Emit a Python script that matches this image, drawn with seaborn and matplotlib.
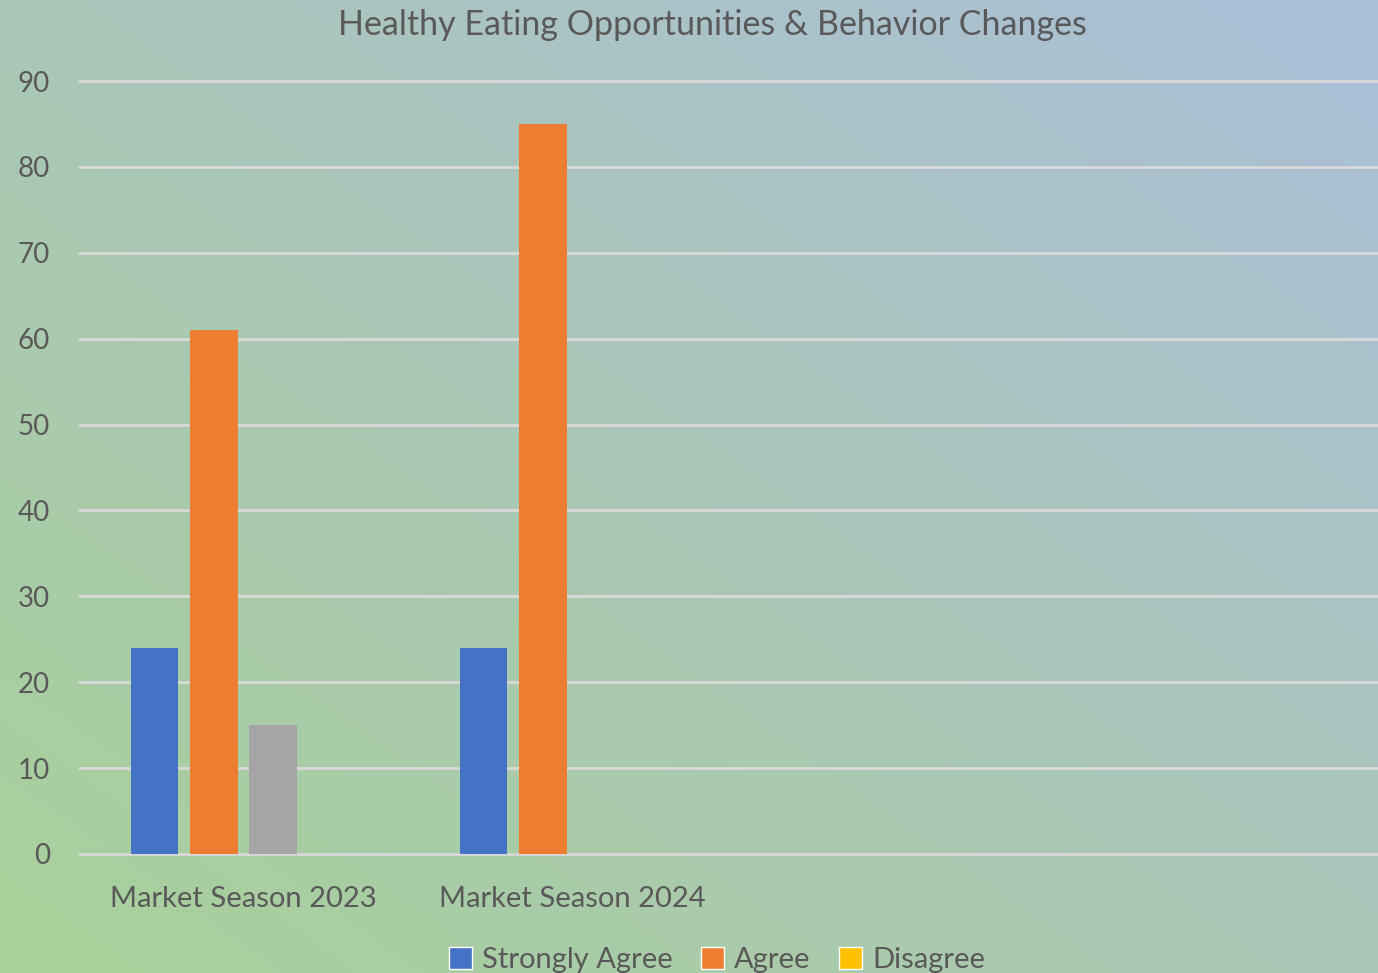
import numpy as np
import pandas as pd
import matplotlib.pyplot as plt
import matplotlib.colors as mcolors
from matplotlib.patches import Patch
import seaborn as sns

# --- data ---
seasons = ["Market Season 2023", "Market Season 2024"]
series = ["Strongly Agree", "Agree", "Neutral", "Disagree"]
strongly_agree = [24, 24]
agree = [61, 85]
neutral = [15, 0]
disagree = [0, 0]
legend_series = ["Strongly Agree", "Agree", "Disagree"]

colors = {"Strongly Agree": "#4472C4", "Agree": "#ED7D31",
          "Neutral": "#A5A5A5", "Disagree": "#FFC000"}
TXT = "#595959"

df = pd.DataFrame({
    "Season": seasons * 4,
    "Response": np.repeat(series, len(seasons)),
    "Value": strongly_agree + agree + neutral + disagree,
})

sns.set_theme(style="white")
plt.rcParams["font.family"] = ["Lato", "DejaVu Sans"]

fig = plt.figure(figsize=(13.78, 9.73), dpi=100)

# gradient background (green bottom-left -> blue top-right)
bg = fig.add_axes([0, 0, 1, 1], zorder=-10)
H, W = 200, 280
yy, xx = np.mgrid[0:H, 0:W]
t = (xx / (W - 1) + (1 - yy / (H - 1))) / 2
cmap = mcolors.LinearSegmentedColormap.from_list(
    "bg", ["#A8D199", "#AAC7B8", "#AABFD9"])
bg.imshow(t, cmap=cmap, aspect="auto", extent=[0, 1, 0, 1], origin="upper")
bg.axis("off")

ax = fig.add_axes([79 / 1378, 119 / 973, 1299 / 1378, 773 / 973])
ax.patch.set_alpha(0)

sns.barplot(data=df, x="Season", y="Value", hue="Response", hue_order=series,
            palette=colors, width=0.72, gap=0.2, ax=ax, legend=False,
            saturation=1, linewidth=0, zorder=3)

ax.set_xlim(-0.5, -0.5 + 1299 / 329.0)
ax.set_ylim(0, 90)
ax.set_yticks(range(0, 91, 10))
ax.grid(axis="y", color="#D9D9D9", linewidth=2, zorder=0)
for gl in ax.get_ygridlines():
    gl.set_clip_on(False)
ax.set_axisbelow(True)
for s in ax.spines.values():
    s.set_visible(False)
ax.set_xlabel("")
ax.set_ylabel("")
ax.tick_params(axis="y", length=0, pad=21, labelsize=20, labelcolor=TXT)
ax.tick_params(axis="x", length=0, pad=23, labelsize=21, labelcolor=TXT)

fig.text(712 / 1378, 1 - 25 / 973, "Healthy Eating Opportunities & Behavior Changes",
         ha="center", va="center", fontsize=24.5, color=TXT)

handles = [Patch(facecolor=colors[s], label=s) for s in legend_series]
fig.legend(handles=handles, loc="center", bbox_to_anchor=(717 / 1378, 1 - 960 / 973),
           ncol=3, frameon=False, fontsize=21, labelcolor=TXT,
           handlelength=0.8, handleheight=0.8, handletextpad=0.35, columnspacing=0.95)

fig.savefig("out.png", dpi=100)
